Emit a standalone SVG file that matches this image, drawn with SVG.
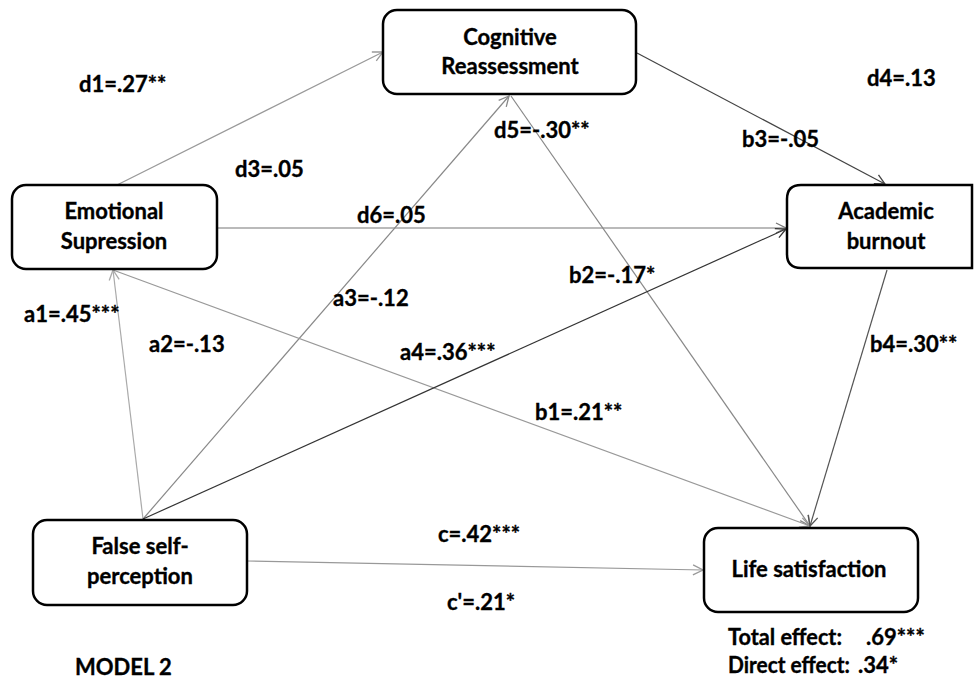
<svg xmlns="http://www.w3.org/2000/svg" width="974" height="680" viewBox="0 0 974 680">
<style>
.box{fill:#fff;stroke:#000;stroke-width:2.5}
.t{font-family:Lato,"Liberation Sans",sans-serif;font-weight:bold;font-size:22px;fill:#000;stroke:#000;stroke-width:0.35}
.m{text-anchor:middle}
.c{fill:none;stroke-width:1.2}
</style>
<defs>
<marker id="ah" viewBox="0 0 12 12" refX="11" refY="6" markerWidth="12" markerHeight="12" markerUnits="userSpaceOnUse" orient="auto">
<path d="M1,1 L11,6 L1,11" fill="none" stroke="context-stroke" stroke-width="1.3"/>
</marker>
</defs>
<rect width="974" height="680" fill="#fff"/>
<g id="connectors">
<line class="c" x1="117" y1="185" x2="383" y2="52" stroke="#999" marker-end="url(#ah)"/>
<line class="c" x1="218" y1="228" x2="786" y2="228" stroke="#777" marker-end="url(#ah)"/>
<line class="c" x1="637" y1="53" x2="885" y2="184" stroke="#444" marker-end="url(#ah)"/>
<line class="c" x1="143" y1="519" x2="509" y2="96" stroke="#888" marker-end="url(#ah)"/>
<line class="c" x1="511" y1="96" x2="810" y2="526" stroke="#888" marker-end="url(#ah)"/>
<line class="c" x1="143" y1="519" x2="113" y2="270" stroke="#aaa" marker-end="url(#ah)"/>
<line class="c" x1="113" y1="270" x2="810" y2="526" stroke="#999" marker-end="url(#ah)"/>
<line class="c" x1="143" y1="519" x2="786" y2="229" stroke="#333" marker-end="url(#ah)"/>
<line class="c" x1="887" y1="270" x2="810" y2="526" stroke="#555" marker-end="url(#ah)"/>
<line class="c" x1="247" y1="561" x2="703" y2="570" stroke="#999" marker-end="url(#ah)"/>
</g>
<g id="cognitive">
<rect class="box" x="383" y="10" width="253" height="84" rx="14"/>
<text class="t m" x="510" y="45">Cognitive</text>
<text class="t m" x="510" y="74">Reassessment</text>
</g>
<g id="emotional">
<rect class="box" x="12" y="185" width="205" height="84" rx="14"/>
<text class="t m" x="114" y="219">Emotional</text>
<text class="t m" x="114" y="249">Supression</text>
</g>
<g id="academic">
<path class="box" d="M972,185 L801,185 Q787,185 787,199 L787,254 Q787,268 801,268 L972,268 Z"/>
<text class="t m" x="886" y="219">Academic</text>
<text class="t m" x="886" y="249">burnout</text>
</g>
<g id="falseself">
<rect class="box" x="33" y="520" width="214" height="85" rx="14"/>
<text class="t m" x="140" y="554">False self-</text>
<text class="t m" x="140" y="584">perception</text>
</g>
<g id="lifesat">
<rect class="box" x="704" y="528" width="214" height="84" rx="14"/>
<text class="t m" x="809" y="577">Life satisfaction</text>
</g>
<g id="labels">
<text class="t" x="79" y="92">d1=.27**</text>
<text class="t" x="235" y="177">d3=.05</text>
<text class="t" x="357" y="223">d6=.05</text>
<text class="t" x="333" y="306">a3=-.12</text>
<text class="t" x="24" y="322">a1=.45***</text>
<text class="t" x="149" y="352">a2=-.13</text>
<text class="t" x="400" y="360">a4=.36***</text>
<text class="t" x="494" y="138">d5=-.30**</text>
<text class="t" x="742" y="147">b3=-.05</text>
<text class="t" x="867" y="86">d4=.13</text>
<text class="t" x="569" y="283">b2=-.17*</text>
<text class="t" x="870" y="352">b4=.30**</text>
<text class="t" x="535" y="420">b1=.21**</text>
<text class="t" x="438" y="542">c=.42***</text>
<text class="t" x="447" y="610">c'=.21*</text>
<text class="t" x="728" y="645" textLength="114" lengthAdjust="spacingAndGlyphs">Total effect:</text>
<text class="t" x="866" y="645">.69***</text>
<text class="t" x="728" y="673" textLength="122" lengthAdjust="spacingAndGlyphs">Direct effect:</text>
<text class="t" x="858" y="673">.34*</text>
<text class="t" x="75" y="675">MODEL 2</text>
</g>
</svg>
